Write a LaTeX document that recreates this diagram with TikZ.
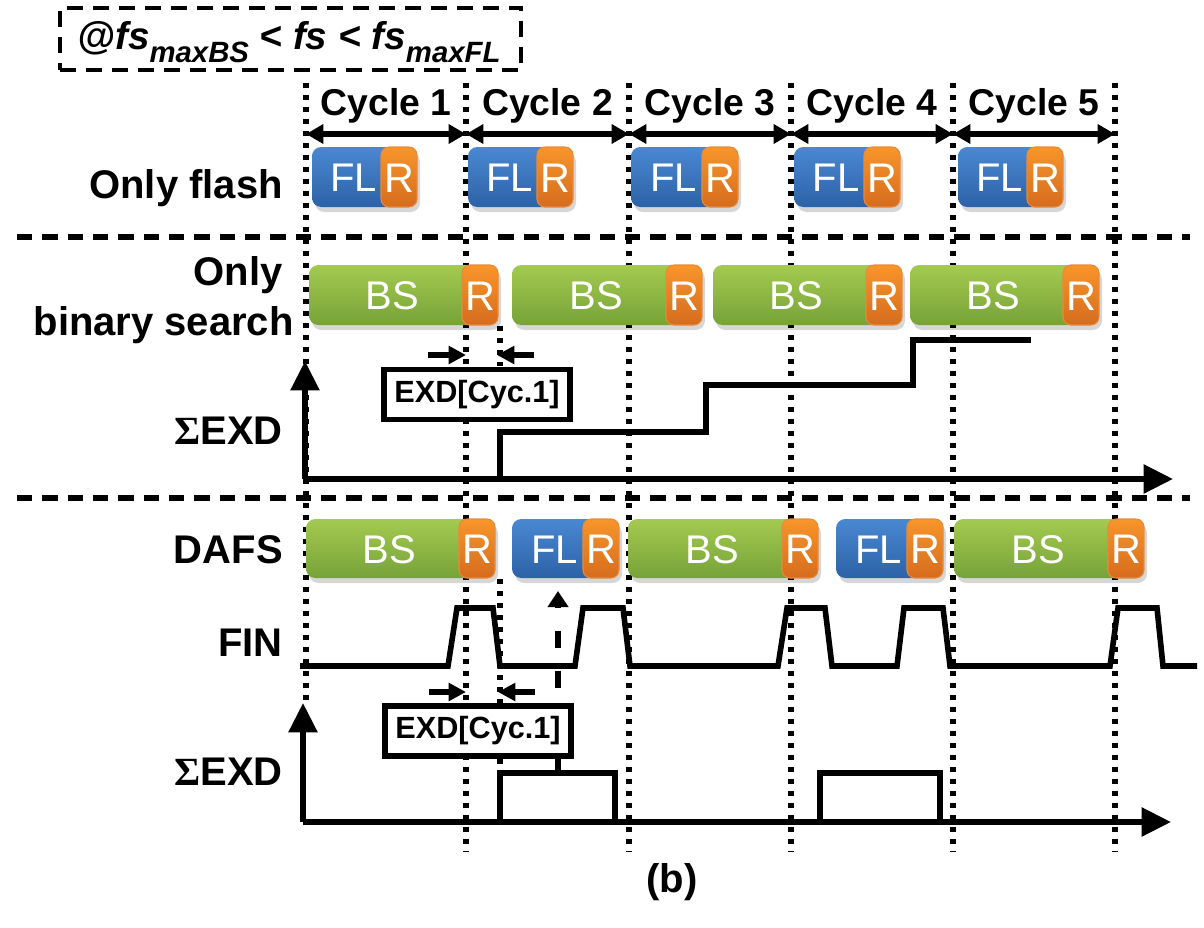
\documentclass[tikz,border=0pt]{standalone}
\usepackage{fontspec}
\setmainfont{Liberation Sans}
\newfontfamily\sigmafont{Liberation Serif}
\usetikzlibrary{arrows.meta,calc}
\definecolor{flTop}{HTML}{4A88D2}
\definecolor{flBot}{HTML}{2C62A6}
\definecolor{bsTop}{HTML}{A4CA50}
\definecolor{bsBot}{HTML}{76A238}
\definecolor{rTop}{HTML}{F8952A}
\definecolor{rBot}{HTML}{D56C1E}
\definecolor{rEdge}{HTML}{E98A3A}
\newcommand{\subsc}[1]{\raisebox{-9.5pt}{\fontsize{22}{22}\selectfont #1}}
\newcommand{\procblk}[7]{%
  \path[fill=black, opacity=0.16, rounded corners=7pt] ({#2+3},{#4+5}) rectangle ({#3+3},{#5+5});
  \path[#7, rounded corners=7pt] (#2,#4) rectangle ({#3-18},#5);
  \path[rfill, rounded corners=6pt] ({#3-36},#4) rectangle (#3,#5);
  \node[boxtxt] (#1) at ({(#2+#3-22)/2},{(#4+#5)/2+1}) {#6};
  \node[rtxt] (#1r) at ({#3-18},{(#4+#5)/2+1}) {R};
}
\begin{document}
\begin{tikzpicture}[x=0.75pt,y=-0.75pt,
  lbl/.style={font=\bfseries\fontsize{30}{37.5}\selectfont, anchor=east, inner sep=0pt},
  cyc/.style={font=\bfseries\fontsize{28}{32}\selectfont, inner sep=0pt},
  boxtxt/.style={text=white, font=\fontsize{30}{32}\selectfont, inner sep=0pt},
  rtxt/.style={text=white, font=\fontsize{31}{32}\selectfont, inner sep=0pt},
  flfill/.style={top color=flTop, bottom color=flBot},
  bsfill/.style={top color=bsTop, bottom color=bsBot},
  rfill/.style={top color=rTop, bottom color=rBot, draw=rEdge, line width=0.8pt},
  sig/.style={line width=4.2pt, line join=miter, line cap=butt},
  dotv/.style={line width=4.4pt, dash pattern=on 4pt off 5pt},
  hdash/.style={line width=4.8pt, dash pattern=on 11.5pt off 7.5pt},
  cycarrow/.style={line width=4.2pt, {Triangle[length=13pt,width=14pt]}-{Triangle[length=13pt,width=14pt]}},
  exdarrow/.style={line width=3.8pt, -{Triangle[length=13pt,width=13pt]}},
  axisarrow/.style={line width=4.2pt, -{Triangle[length=22pt,width=21pt]}},
  exdbox/.style={draw, fill=white, line width=4.4pt, minimum width=139pt, minimum height=37.5pt, inner sep=0pt,
    font=\bfseries\fontsize{23}{26}\selectfont},
  dasharrow/.style={line width=4.2pt, dash pattern=on 13pt off 17pt, -{Triangle[length=12pt,width=15pt]}}
]
\useasboundingbox (0,0) rectangle (1204,928);

% header
\node[draw, line width=3.4pt, dash pattern=on 12pt off 7.5pt, minimum width=346pt, minimum height=46.5pt,
  inner sep=0pt] (hdrbox) at (290.5,39) {};
\node[font=\bfseries\itshape\fontsize{29}{34}\selectfont, inner sep=0pt, anchor=base] (hdr) at (289,50)
  {@fs\subsc{maxBS} < fs < fs\subsc{maxFL}};

% vertical dotted cycle lines
\foreach \i/\xx in {1/466,2/629,3/791,4/953,5/1115}{
  \coordinate (vt\i) at (\xx,83);
  \coordinate (vb\i) at (\xx,852);
  \draw[dotv] (vt\i) -- (vb\i);
}
\coordinate (vt0) at (306,83);
\coordinate (vb0) at (306,706);
\draw[dotv] (vt0) -- (vb0);

% horizontal dashed separators
\coordinate (hA1) at (17,237); \coordinate (hA2) at (1190,237);
\coordinate (hB1) at (17,498); \coordinate (hB2) at (1190,498);
\draw[hdash] (hA1) -- (hA2);
\draw[hdash] (hB1) -- (hB2);

% cycle arrows and labels
\foreach \i/\xx in {0/306,1/466,2/629,3/791,4/953,5/1115}{
  \coordinate (ca\i) at (\xx,134);
}
\foreach \a/\b/\n in {0/1/1,1/2/2,2/3/3,3/4/4,4/5/5}{
  \draw[cycarrow] (ca\a) -- (ca\b);
  \node[cyc] (cyc\n) at ($ (ca\a)!0.5!(ca\b) + (0,-28) $) {Cycle \n};
}

% row labels
\node[lbl] (lflash) at (283,188) {Only flash};
\node[lbl, align=right] (lbs) at (294,300) {Only\hspace*{8.5pt}\\binary search};
\node[lbl] (lsum1) at (283,431) {{\sigmafont\bfseries Σ}EXD};
\node[lbl] (ldafs) at (283,550) {DAFS};
\node[lbl] (lfin) at (283,643) {FIN};
\node[lbl] (lsum2) at (283,772) {{\sigmafont\bfseries Σ}EXD};
\node[font=\bfseries\fontsize{30}{34}\selectfont, inner sep=0pt] (cap) at (672,882) {(b)};

% only flash row
\procblk{f1}{312}{417}{147}{207}{FL}{flfill}
\procblk{f2}{468}{573}{147}{207}{FL}{flfill}
\procblk{f3}{631}{738}{147}{207}{FL}{flfill}
\procblk{f4}{794}{900}{147}{207}{FL}{flfill}
\procblk{f5}{958}{1063}{147}{207}{FL}{flfill}

% only binary search row
\procblk{b1}{309}{498}{265}{325}{BS}{bsfill}
\procblk{b2}{512}{702}{265}{325}{BS}{bsfill}
\procblk{b3}{713}{902}{265}{325}{BS}{bsfill}
\procblk{b4}{910}{1099}{265}{325}{BS}{bsfill}

% upper EXD markers
\coordinate (ue1) at (500,326); \coordinate (ue2) at (500,366);
\draw[dotv] (ue1) -- (ue2);
\coordinate (ua1) at (428,355); \coordinate (ua2) at (466,355);
\coordinate (ua3) at (534,355); \coordinate (ua4) at (497,355);
\draw[exdarrow] (ua1) -- (ua2);
\draw[exdarrow] (ua3) -- (ua4);
\node[exdbox] (exd1) at (477,394.5) {EXD[Cyc.1]};

% upper sum axis
\coordinate (o1) at (305,479);
\coordinate (y1) at (305,361);
\coordinate (x1) at (1173,479);
\draw[axisarrow] (o1) -- (y1);
\draw[axisarrow] (o1) -- (x1);
\coordinate (s1a) at (500,479);
\coordinate (s1e) at (1031,340);
\draw[sig] (s1a) -- (500,432) -- (706,432) -- (706,385) -- (913,385) -- (913,340) -- (s1e);

% DAFS row
\procblk{d1}{306}{495}{519}{578}{BS}{bsfill}
\procblk{d2}{512}{619}{519}{578}{FL}{flfill}
\procblk{d3}{628}{818}{519}{578}{BS}{bsfill}
\procblk{d4}{836}{943}{519}{578}{FL}{flfill}
\procblk{d5}{954}{1144}{519}{578}{BS}{bsfill}

% FIN waveform
\coordinate (fin0) at (300,666);
\coordinate (fin1) at (1197,666);
\draw[sig] (fin0) -- (448,666) -- (457,608) -- (493,608) -- (500,666)
  -- (575,666) -- (583,608) -- (623,608) -- (630,666)
  -- (778,666) -- (787,608) -- (825,608) -- (832,666)
  -- (897,666) -- (904,608) -- (943,608) -- (950,666)
  -- (1110,666) -- (1118,608) -- (1157,608) -- (1163,666) -- (fin1);

% lower EXD markers
\coordinate (le1) at (500,579); \coordinate (le2) at (500,772);
\draw[dotv] (le1) -- (le2);
\coordinate (la1) at (429,692); \coordinate (la2) at (466,692);
\coordinate (la3) at (535,692); \coordinate (la4) at (498,692);
\draw[exdarrow] (la1) -- (la2);
\draw[exdarrow] (la3) -- (la4);
\node[exdbox] (exd2) at (478,731) {EXD[Cyc.1]};

% dashed arrow to the FL decision
\coordinate (da0) at (558,688);
\coordinate (da1) at (558,591);
\draw[dasharrow] (da0) -- (da1);

% lower sum axis
\coordinate (o2) at (303,822);
\coordinate (y2) at (303,703);
\coordinate (x2) at (1171,822);
\draw[axisarrow] (o2) -- (y2);
\draw[axisarrow] (o2) -- (x2);
\coordinate (p1a) at (500,822);
\coordinate (p1m) at (558,773);
\coordinate (p1b) at (615,822);
\draw[sig] (p1a) -- (500,773) -- (615,773) -- (p1b);
\draw[sig] (exd2.south -| p1m) -- (p1m);
\coordinate (p2a) at (820,822);
\coordinate (p2b) at (940,822);
\draw[sig] (p2a) -- (820,773) -- (940,773) -- (p2b);
\end{tikzpicture}
\end{document}
